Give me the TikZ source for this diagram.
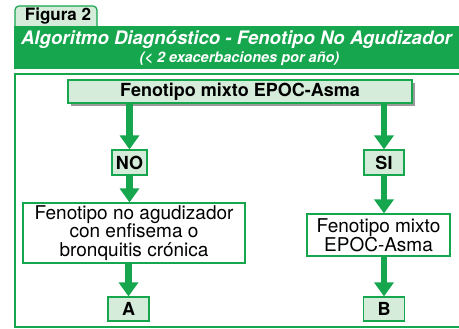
\documentclass[tikz,border=0pt]{standalone}
\usepackage{fontspec}
\setmainfont{TeX Gyre Heros}
\usepackage{xcolor}
\usepackage{tikz}
\usetikzlibrary{arrows.meta,shadows}
\definecolor{verde}{RGB}{22,166,78}
\definecolor{verdeclaro}{RGB}{212,236,217}

\begin{document}
\begin{tikzpicture}[x=1pt, y=-1pt, line width=1.2pt,
   flecha/.style={-{Triangle[width=19pt,length=14pt]}, draw=verde, line width=6.5pt},
   rotulo/.style={draw=verde, fill=verdeclaro, inner sep=0pt, font=\bfseries\fontsize{18}{18}\selectfont},
   caja/.style={draw=verde, fill=white, inner sep=0pt, align=center, font=\fontsize{19}{18.5}\selectfont}]
   \useasboundingbox (0,0) rectangle (459,329);
   % cabecera
   \draw [verde, fill=verdeclaro, rounded corners=4pt] (15,28) -- (15,6) -- (97,6) -- (97,28);
   \node (figura) at (58,16.5) {\bfseries\fontsize{17}{17}\selectfont Figura 2};
   \fill [verde] (14,26) rectangle (459,69);
   \node [text=white] (titulo) at (236.5,40) {\bfseries\itshape\fontsize{18.6}{18.6}\selectfont Algoritmo Diagnóstico - Fenotipo No Agudizador};
   \node [text=white] (subtitulo) at (239.5,59) {\bfseries\itshape\fontsize{14.5}{14.5}\selectfont (< 2 exacerbaciones por año)};
   \draw [verde, line width=2pt] (459,74) -- (15,74) -- (15,327) -- (459,327);

   % algoritmo
   \node [rotulo, minimum width=344pt, minimum height=23pt, drop shadow={shadow xshift=3pt, shadow yshift=-3pt, fill=gray, opacity=0.8}] (mixto) at (240,91.5) {Fenotipo mixto EPOC-Asma};
   \node [rotulo, minimum width=35pt, minimum height=25pt] (no) at (129.5,162.5) {NO};
   \node [rotulo, minimum width=40pt, minimum height=25pt] (si) at (384,162.5) {SI};
   \node [caja, minimum width=222pt, minimum height=60pt] (agud) at (134,233) {Fenotipo no agudizador\\con enfisema o\\bronquitis crónica};
   \node [caja, minimum width=143pt, minimum height=42pt] (mixtob) at (378.5,235) {Fenotipo mixto\\EPOC-Asma};
   \node [rotulo, minimum width=41pt, minimum height=24pt] (a) at (128.5,309) {A};
   \node [rotulo, minimum width=41pt, minimum height=24pt] (b) at (384,309) {B};

   \path (mixto.south -| no) edge [flecha] (no);
   \path (no) edge [flecha] (no |- agud.north);
   \path (agud.south -| a) edge [flecha] (a);
   \path (mixto.south -| si) edge [flecha] (si);
   \path (si) edge [flecha] (si |- mixtob.north);
   \path (mixtob.south -| b) edge [flecha] (b);
\end{tikzpicture}
\end{document}
